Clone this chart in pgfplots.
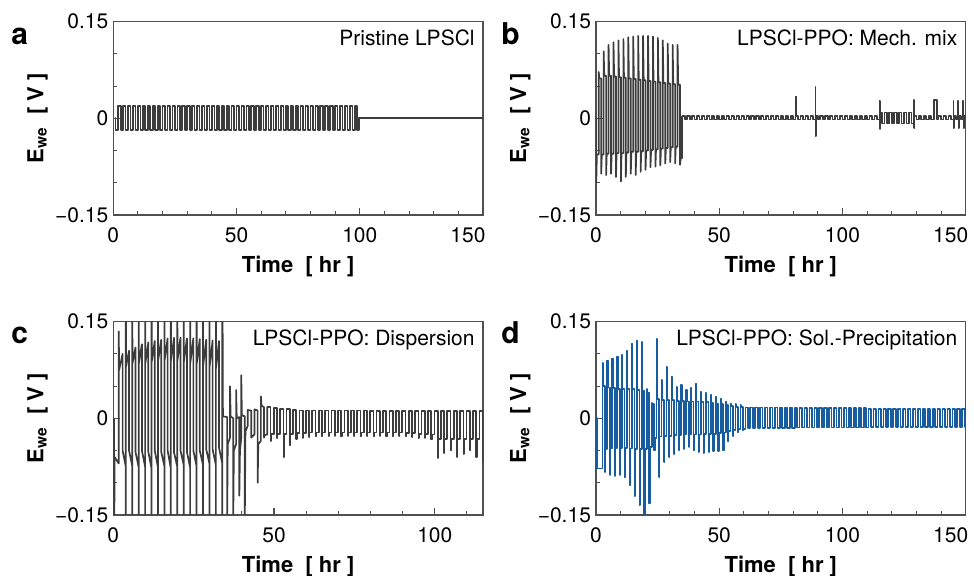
\documentclass[border=0pt]{standalone}
\usepackage{fontspec}
\setmainfont{TeX Gyre Heros}
\usepackage{pgfplots}
\pgfplotsset{compat=1.18}
\definecolor{trace}{RGB}{60,60,60}
\definecolor{traceblue}{RGB}{22,92,158}
\definecolor{framegray}{RGB}{80,80,80}

\pgfplotsset{
  panel/.style={
    scale only axis, width=184.85pt, height=96.65pt,
    ymin=-0.15, ymax=0.15,
    ytick={-0.15,0,0.15}, yticklabels={−0.15,0,0.15},
    minor ytick={-0.1,-0.05,0.05,0.1},
    tick align=inside, tick pos=left,
    major tick length=3.5pt, minor tick length=2pt,
    axis line style={framegray, line width=0.55pt},
    every tick/.style={framegray, line width=0.55pt},
    tick label style={font=\fontsize{10.5}{12}\selectfont},
    yticklabel style={xshift=1pt},
    xticklabel style={anchor=base, yshift=-14pt},
    xlabel={\textbf{Time\ \ [ hr ]}},
    xlabel style={at={([yshift=-28.8pt]axis description cs:0.5,0)}, anchor=base, font=\fontsize{11}{13}\selectfont},
    ylabel={\textbf{E\textsubscript{we}\ \ [ V ]}},
    ylabel style={at={([xshift=-35pt]axis description cs:0,0.5)}, anchor=base, font=\fontsize{11}{13}\selectfont},
  },
  tr/.style={trace, line width=0.85pt, line join=round},
}

\begin{document}
\begin{tikzpicture}[font=\fontsize{10.5}{12.6}\selectfont]
\path[use as bounding box] (0,0) rectangle (487pt,288pt);

% ---- a: pristine
\begin{axis}[panel, at={(56.65pt,180.5pt)}, anchor=south west,
  xmin=0, xmax=150, xtick={0,50,100,150}, xticklabels={0,50,100,\hspace*{-15pt}150},
  minor xtick={10,20,...,140}]
\addplot[tr, const plot] coordinates {
(0.7,0)(0.9,-0.018)
(2,0.019)(3,-0.018)(4,0.019)(5,-0.018)(6,0.019)(7,-0.018)(8,0.019)(9,-0.018)(10,0.019)(11,-0.018)
(12,0.019)(13,-0.018)(14,0.019)(15,-0.018)(16,0.019)(17,-0.018)(18,0.019)(19,-0.018)(20,0.019)(21,-0.018)
(22,0.019)(23,-0.018)(24,0.019)(25,-0.018)(26,0.019)(27,-0.018)(28,0.019)(29,-0.018)(30,0.019)(31,-0.018)
(32,0.019)(33,-0.018)(34,0.019)(35,-0.018)(36,0.019)(37,-0.018)(38,0.019)(39,-0.018)(40,0.019)(41,-0.018)
(42,0.019)(43,-0.018)(44,0.019)(45,-0.018)(46,0.019)(47,-0.018)(48,0.019)(49,-0.018)(50,0.019)(51,-0.018)
(52,0.019)(53,-0.018)(54,0.019)(55,-0.018)(56,0.019)(57,-0.018)(58,0.019)(59,-0.018)(60,0.019)(61,-0.018)
(62,0.019)(63,-0.018)(64,0.019)(65,-0.018)(66,0.019)(67,-0.018)(68,0.019)(69,-0.018)(70,0.019)(71,-0.018)
(72,0.019)(73,-0.018)(74,0.019)(75,-0.018)(76,0.019)(77,-0.018)(78,0.019)(79,-0.018)(80,0.019)(81,-0.018)
(82,0.019)(83,-0.018)(84,0.019)(85,-0.018)(86,0.019)(87,-0.018)(88,0.019)(89,-0.018)(90,0.019)(91,-0.018)
(92,0.019)(93,-0.018)(94,0.019)(95,-0.018)(96,0.019)(97,-0.018)(98,0.019)(99,-0.018)
(99.8,0.0005)(150,0.0005)
};
\node[anchor=base east, inner sep=0pt] at ([xshift=-4pt,yshift=-12pt]rel axis cs:1,1) {Pristine LPSCl};
\end{axis}

% ---- b: mechanical mix
\begin{axis}[panel, at={(298pt,180.5pt)}, anchor=south west,
  xmin=0, xmax=150, xtick={0,50,100,150}, xticklabels={0,50,100,\hspace*{-15pt}150},
  minor xtick={10,20,...,140}]
\addplot[tr] coordinates {
(0,0)
(0.1,-0.100)(0.35,-0.056)(1.1,-0.056)(1.1,0.072)(1.35,0.062)(2.1,0.062)
(2.1,-0.086)(2.35,-0.056)(3.1,-0.056)(3.1,0.104)(3.35,0.066)(4.1,0.066)
(4.1,-0.088)(4.35,-0.055)(5.1,-0.055)(5.1,0.114)(5.35,0.066)(6.1,0.066)
(6.1,-0.086)(6.35,-0.055)(7.1,-0.055)(7.1,0.118)(7.35,0.065)(8.1,0.065)
(8.1,-0.091)(8.35,-0.054)(9.1,-0.054)(9.1,0.121)(9.35,0.064)(10.1,0.064)
(10.1,-0.098)(10.35,-0.054)(11.1,-0.054)(11.1,0.123)(11.35,0.063)(12.1,0.063)
(12.1,-0.091)(12.35,-0.053)(13.1,-0.053)(13.1,0.126)(13.35,0.062)(14.1,0.062)
(14.1,-0.086)(14.35,-0.052)(15.1,-0.052)(15.1,0.127)(15.35,0.061)(16.1,0.061)
(16.1,-0.088)(16.35,-0.052)(17.1,-0.052)(17.1,0.128)(17.35,0.060)(18.1,0.060)
(18.1,-0.083)(18.35,-0.051)(19.1,-0.051)(19.1,0.128)(19.35,0.059)(20.1,0.059)
(20.1,-0.080)(20.35,-0.050)(21.1,-0.050)(21.1,0.128)(21.35,0.058)(22.1,0.058)
(22.1,-0.076)(22.35,-0.049)(23.1,-0.049)(23.1,0.127)(23.35,0.057)(24.1,0.057)
(24.1,-0.075)(24.35,-0.048)(25.1,-0.048)(25.1,0.125)(25.35,0.056)(26.1,0.056)
(26.1,-0.073)(26.35,-0.047)(27.1,-0.047)(27.1,0.121)(27.35,0.055)(28.1,0.055)
(28.1,-0.070)(28.35,-0.046)(29.1,-0.046)(29.1,0.116)(29.35,0.054)(30.1,0.054)
(30.1,-0.068)(30.35,-0.045)(31.1,-0.045)(31.1,0.114)(31.35,0.053)(32.1,0.053)
(32.1,-0.070)(32.35,-0.044)(33.1,-0.044)(33.1,0.114)(33.35,0.052)(34.1,0.052)
(34.1,-0.072)(34.35,-0.062)(34.9,-0.062)(34.9,0.004)
};
\addplot[tr, const plot] coordinates {
(34.9,0.004)(36,-0.002)(37,0.004)(38,-0.002)(39,0.004)(40,-0.002)(41,0.004)(42,-0.002)(43,0.004)(44,-0.002)
(45,0.004)(46,-0.002)(47,0.004)(48,-0.002)(49,0.004)(50,-0.002)(51,0.004)(52,-0.002)(53,0.004)(54,-0.002)
(55,0.004)(56,-0.002)(57,0.004)(58,-0.002)(59,0.004)(60,-0.002)(61,0.004)(62,-0.002)(63,0.004)(64,-0.002)
(65,0.004)(66,-0.002)(67,0.004)(68,-0.002)(69,0.004)(70,-0.002)(71,0.004)(72,-0.002)(73,0.004)(74,-0.002)
(75,0.004)(76,-0.002)(77,0.004)(78,-0.002)(79,0.004)(80,-0.002)
(81,0.034)(81.15,0.004)(82,-0.002)(83,0.004)(84,-0.002)(85,0.004)(86,-0.002)(87,0.004)(88,-0.002)
(89,0.049)(89.1,-0.027)(89.2,0.004)(90,-0.002)(91,0.004)(92,-0.002)(93,0.004)(94,-0.002)(95,0.004)(96,-0.002)
(97,0.004)(98,-0.002)(99,0.004)(100,-0.002)(101,0.004)(102,-0.002)(103,0.004)(104,-0.002)(105,0.004)(106,-0.002)
(107,0.004)(108,-0.002)(109,0.004)(110,-0.002)(111,0.004)(112,-0.002)(113,0.004)(114,-0.002)
(115,0.027)(115.1,-0.017)(115.2,0.009)(116,-0.008)(117,0.009)(118,-0.008)(119,0.009)(120,-0.008)
(121,0.009)(122,-0.008)(123,0.009)(124,-0.008)(125,0.009)(126,-0.008)(127,0.009)(128,-0.008)
(129,0.029)(129.1,-0.015)(129.2,0.004)(130,-0.002)(131,0.004)(132,-0.002)(133,0.004)(134,-0.002)(135,0.004)(136,-0.002)
(137,0.028)(138.4,-0.002)(139,0.004)(140,-0.002)(141,0.004)(142,-0.002)(143,0.004)(144,-0.002)
(145,0.027)(145.1,-0.015)(145.2,0.004)(146,-0.002)(147,0.027)(147.1,-0.015)(147.2,0.004)(148,-0.002)
(149,0.027)(149.1,-0.015)(149.2,0.004)(150,-0.002)(150.5,-0.002)
};
\node[anchor=base east, inner sep=0pt] at ([xshift=-4pt,yshift=-12pt]rel axis cs:1,1) {LPSCl-PPO: Mech. mix};
\end{axis}

% ---- c: dispersion
\begin{axis}[panel, at={(56.65pt,30.5pt)}, anchor=south west,
  xmin=0, xmax=115, xtick={0,50,100}, xticklabels={0,50,100},
  minor xtick={10,20,...,110}]
\addplot[tr] coordinates {
(0.2,0)(0.2,-0.3)(0.4,-0.06)(1.7,-0.07)(1.7,0.135)(1.8,0.075)(2.9,0.1)(2.9,-0.05)(3.9,-0.075)
(3.9,-0.3)(3.9,0.3)(3.95,0.080)(4.9,0.105)(4.9,-0.050)(5.9,-0.074)
(5.9,-0.3)(5.9,0.3)(5.95,0.085)(6.9,0.110)(6.9,-0.052)(7.9,-0.076)
(7.9,-0.3)(7.9,0.3)(7.95,0.085)(8.9,0.115)(8.9,-0.050)(9.9,-0.075)
(9.9,-0.3)(9.9,0.3)(9.95,0.085)(10.9,0.118)(10.9,-0.052)(11.9,-0.078)
(11.9,-0.3)(11.9,0.3)(11.95,0.088)(12.9,0.120)(12.9,-0.050)(13.9,-0.076)
(13.9,-0.3)(13.9,0.3)(13.95,0.090)(14.9,0.122)(14.9,-0.052)(15.9,-0.074)
(15.9,-0.3)(15.9,0.3)(15.95,0.090)(16.9,0.124)(16.9,-0.050)(17.9,-0.078)
(17.9,-0.3)(17.9,0.3)(17.95,0.090)(18.9,0.125)(18.9,-0.053)(19.9,-0.075)
(19.9,-0.3)(19.9,0.3)(19.95,0.090)(20.9,0.125)(20.9,-0.050)(21.9,-0.072)
(21.9,-0.3)(21.9,0.3)(21.95,0.088)(22.9,0.124)(22.9,-0.052)(23.9,-0.076)
(23.9,-0.3)(23.9,0.3)(23.95,0.086)(24.9,0.124)(24.9,-0.050)(25.9,-0.074)
(25.9,-0.3)(25.9,0.3)(25.95,0.085)(26.9,0.123)(26.9,-0.050)(27.9,-0.072)
(27.9,-0.3)(27.9,0.3)(27.95,0.082)(28.9,0.122)(28.9,-0.048)(29.9,-0.070)
(29.9,-0.3)(29.9,0.3)(29.95,0.080)(30.9,0.121)(30.9,-0.048)(31.9,-0.072)
(31.9,-0.3)(31.9,0.3)(31.95,0.078)(32.9,0.120)(32.9,-0.046)(33.9,-0.070)
(33.9,-0.3)(33.9,0.3)(34.1,0.003)
(35.4,0.002)(35.4,-0.16)(35.6,-0.04)(36.3,-0.03)(36.3,0.05)(36.5,0.003)(37.3,0.0)(37.3,-0.16)(37.5,-0.05)
(38.2,-0.04)(38.2,0.044)(38.4,0.0)(39.2,0.002)(39.2,-0.12)(39.4,-0.05)(39.8,-0.03)(39.8,0.067)(40.0,0.005)
(40.9,0.003)(40.9,-0.16)(41.1,-0.02)(41.8,-0.012)(41.8,0.013)(42.9,0.012)(42.9,-0.03)(43.9,-0.025)
(43.9,0.014)(44.9,0.012)(44.9,-0.1)(45.1,-0.04)(45.9,-0.035)(45.9,0.034)(46.1,0.02)(46.9,0.017)
(46.9,-0.03)(47.1,-0.026)(47.9,-0.025)(47.9,0.018)
};
\addplot[tr, const plot] coordinates {
(47.9,0.018)(48.9,-0.035)(49.05,-0.024)(49.9,0.016)(50.9,-0.030)(51.05,-0.024)(51.9,0.015)
(52.9,-0.060)(53.05,-0.024)(53.9,0.014)(54.9,-0.042)(55.05,-0.024)(55.9,0.013)(56.9,-0.032)(57.05,-0.023)
(57.9,0.012)(58.9,-0.030)(59.05,-0.023)(59.9,0.012)(60.9,-0.029)(61.05,-0.022)(61.9,0.012)(62.9,-0.028)(63.05,-0.022)
(63.9,0.012)(64.9,-0.028)(65.05,-0.022)(65.9,0.012)(66.9,-0.027)(67.05,-0.022)(67.9,0.012)(68.9,-0.027)(69.05,-0.022)
(69.9,0.012)(70.9,-0.028)(71.05,-0.022)(71.9,0.012)(72.9,-0.027)(73.05,-0.022)(73.9,0.012)(74.9,-0.027)(75.05,-0.022)
(75.9,0.012)(76.9,-0.028)(77.05,-0.022)(77.9,0.012)(78.9,-0.027)(79.05,-0.022)(79.9,0.011)(80.9,-0.028)(81.05,-0.022)
(81.9,0.011)(82.9,-0.027)(83.05,-0.022)(83.9,0.011)(84.9,-0.028)(85.05,-0.022)(85.9,0.011)(86.9,-0.028)(87.05,-0.022)
(87.9,0.011)(88.9,-0.027)(89.05,-0.022)(89.9,0.011)(90.9,-0.028)(91.05,-0.023)(91.9,0.011)(92.9,-0.029)(93.05,-0.023)
(93.9,0.011)(94.9,-0.030)(95.05,-0.024)(95.9,0.011)(96.9,-0.031)(97.05,-0.024)(97.9,0.011)(98.9,-0.033)(99.05,-0.025)
(99.9,0.011)(100.9,-0.062)(101.05,-0.032)(101.9,0.011)(102.9,-0.054)(103.05,-0.032)(103.9,0.011)(104.9,-0.050)(105.05,-0.032)
(105.9,0.011)(106.9,-0.060)(107.05,-0.032)(107.9,0.011)(108.9,-0.055)(109.05,-0.032)(109.9,0.011)(110.9,-0.050)(111.05,-0.032)
(111.9,0.011)(112.9,-0.060)(113.05,-0.032)(113.9,0.011)(114.9,-0.067)(115.05,-0.032)(115.5,-0.032)
};
\node[anchor=base east, inner sep=0pt] at ([xshift=-4pt,yshift=-12pt]rel axis cs:1,1) {LPSCl-PPO: Dispersion};
\end{axis}

% ---- d: solution-precipitation
\begin{axis}[panel, at={(298pt,30.5pt)}, anchor=south west,
  xmin=0, xmax=150, xtick={0,50,100,150}, xticklabels={0,50,100,\hspace*{-15pt}150},
  minor xtick={10,20,...,140}]
\addplot[traceblue, line width=0.85pt, line join=round, const plot] coordinates {
(0,0)(0.3,-0.078)
(2.6,0.086)(2.8,0.050)(3.6,-0.083)(3.8,-0.048)
(4.6,0.090)(4.8,0.048)(5.6,-0.088)(5.8,-0.047)
(6.6,0.093)(6.8,0.047)(7.6,-0.090)(7.8,-0.046)
(8.6,0.096)(8.8,0.046)(9.6,-0.088)(9.8,-0.046)
(10.6,0.098)(10.8,0.045)(11.6,-0.092)(11.8,-0.046)
(12.6,0.104)(12.8,0.045)(13.6,-0.104)(13.8,-0.047)
(14.6,0.116)(14.8,0.045)(15.6,-0.120)(15.8,-0.048)
(16.6,0.121)(16.8,0.044)(17.6,-0.135)(17.8,-0.048)
(18.6,0.119)(18.8,0.043)(19.6,-0.155)(19.8,-0.048)
(20.6,0.045)(20.8,0.040)(21.6,-0.132)(21.8,-0.045)
(22.6,0.024)(22.8,0.022)(23.6,-0.050)(23.8,-0.030)
(24.6,0.123)(24.8,0.030)(25.6,-0.091)(25.8,-0.028)
(26.6,0.060)(26.8,0.028)(27.6,-0.068)(27.8,-0.027)
(28.6,0.080)(28.8,0.028)(29.6,-0.060)(29.8,-0.027)
(30.6,0.065)(30.8,0.028)(31.6,-0.055)(31.8,-0.026)
(32.6,0.049)(32.8,0.027)(33.6,-0.050)(33.8,-0.026)
(34.6,0.052)(34.8,0.027)(35.6,-0.048)(35.8,-0.025)
(36.6,0.044)(36.8,0.026)(37.6,-0.045)(37.8,-0.025)
(38.6,0.047)(38.8,0.026)(39.6,-0.050)(39.8,-0.025)
(40.6,0.054)(40.8,0.026)(41.6,-0.052)(41.8,-0.025)
(42.6,0.041)(42.8,0.025)(43.6,-0.054)(43.8,-0.024)
(44.6,0.039)(44.8,0.025)(45.6,-0.052)(45.8,-0.024)
(46.6,0.036)(46.8,0.024)(47.6,-0.051)(47.8,-0.024)
(48.6,0.034)(48.8,0.023)(49.6,-0.051)(49.8,-0.023)
(50.6,0.031)(50.8,0.022)(51.6,-0.050)(51.8,-0.022)
(52.6,0.026)(52.8,0.021)(53.6,-0.036)(53.8,-0.020)
(54.6,0.023)(54.8,0.019)(55.6,-0.027)(55.8,-0.018)
(56.6,0.022)(56.8,0.018)(57.6,-0.022)(57.8,-0.017)
(58.6,0.021)(58.8,0.018)(59.6,-0.019)(59.8,-0.016)
(60.6,0.017)(61.6,-0.015)(62.6,0.017)(63.6,-0.015)(64.6,0.017)(65.6,-0.015)(66.6,0.017)(67.6,-0.015)
(68.6,0.017)(69.6,-0.015)(70.6,0.017)(71.6,-0.015)(72.6,0.017)(73.6,-0.015)(74.6,0.017)(75.6,-0.015)
(76.6,0.017)(77.6,-0.015)(78.6,0.017)(79.6,-0.015)(80.6,0.016)(81.6,-0.014)(82.6,0.016)(83.6,-0.014)
(84.6,0.016)(85.6,-0.014)(86.6,0.016)(87.6,-0.014)(88.6,0.016)(89.6,-0.014)(90.6,0.016)(91.6,-0.014)
(92.6,0.016)(93.6,-0.014)(94.6,0.016)(95.6,-0.014)(96.6,0.016)(97.6,-0.014)(98.6,0.016)(99.6,-0.014)
(100.6,0.016)(101.6,-0.014)(102.6,0.016)(103.6,-0.014)(104.6,0.016)(105.6,-0.014)(106.6,0.016)(107.6,-0.014)
(108.6,0.016)(109.6,-0.014)(110.6,0.015)(111.6,-0.013)(112.6,0.015)(113.6,-0.013)(114.6,0.015)(115.6,-0.013)
(116.6,0.015)(117.6,-0.013)(118.6,0.015)(119.6,-0.013)(120.6,0.015)(121.6,-0.013)(122.6,0.015)(123.6,-0.013)
(124.6,0.015)(125.6,-0.013)(126.6,0.015)(127.6,-0.013)(128.6,0.015)(129.6,-0.013)(130.6,0.015)(131.6,-0.013)
(132.6,0.015)(133.6,-0.013)(134.6,0.015)(135.6,-0.013)(136.6,0.015)(137.6,-0.013)(138.6,0.015)(139.6,-0.013)
(140.6,0.015)(141.6,-0.013)(142.6,0.015)(143.6,-0.013)(144.6,0.015)(145.6,-0.013)(146.6,0.015)(147.6,-0.013)
(148.6,0.015)(149.6,-0.013)(150.5,-0.013)
};
\node[anchor=base east, inner sep=0pt] at ([xshift=-4pt,yshift=-12pt]rel axis cs:1,1) {LPSCl-PPO: Sol.-Precipitation};
\end{axis}

\begin{scope}[every node/.style={anchor=base west, inner sep=0pt, font=\fontsize{15}{18}\selectfont\bfseries}]
\node at (5.5pt,265.5pt) {a};
\node at (250.5pt,265.5pt) {b};
\node at (5.5pt,116.4pt) {c};
\node at (250.5pt,116.4pt) {d};
\end{scope}
\end{tikzpicture}
\end{document}
